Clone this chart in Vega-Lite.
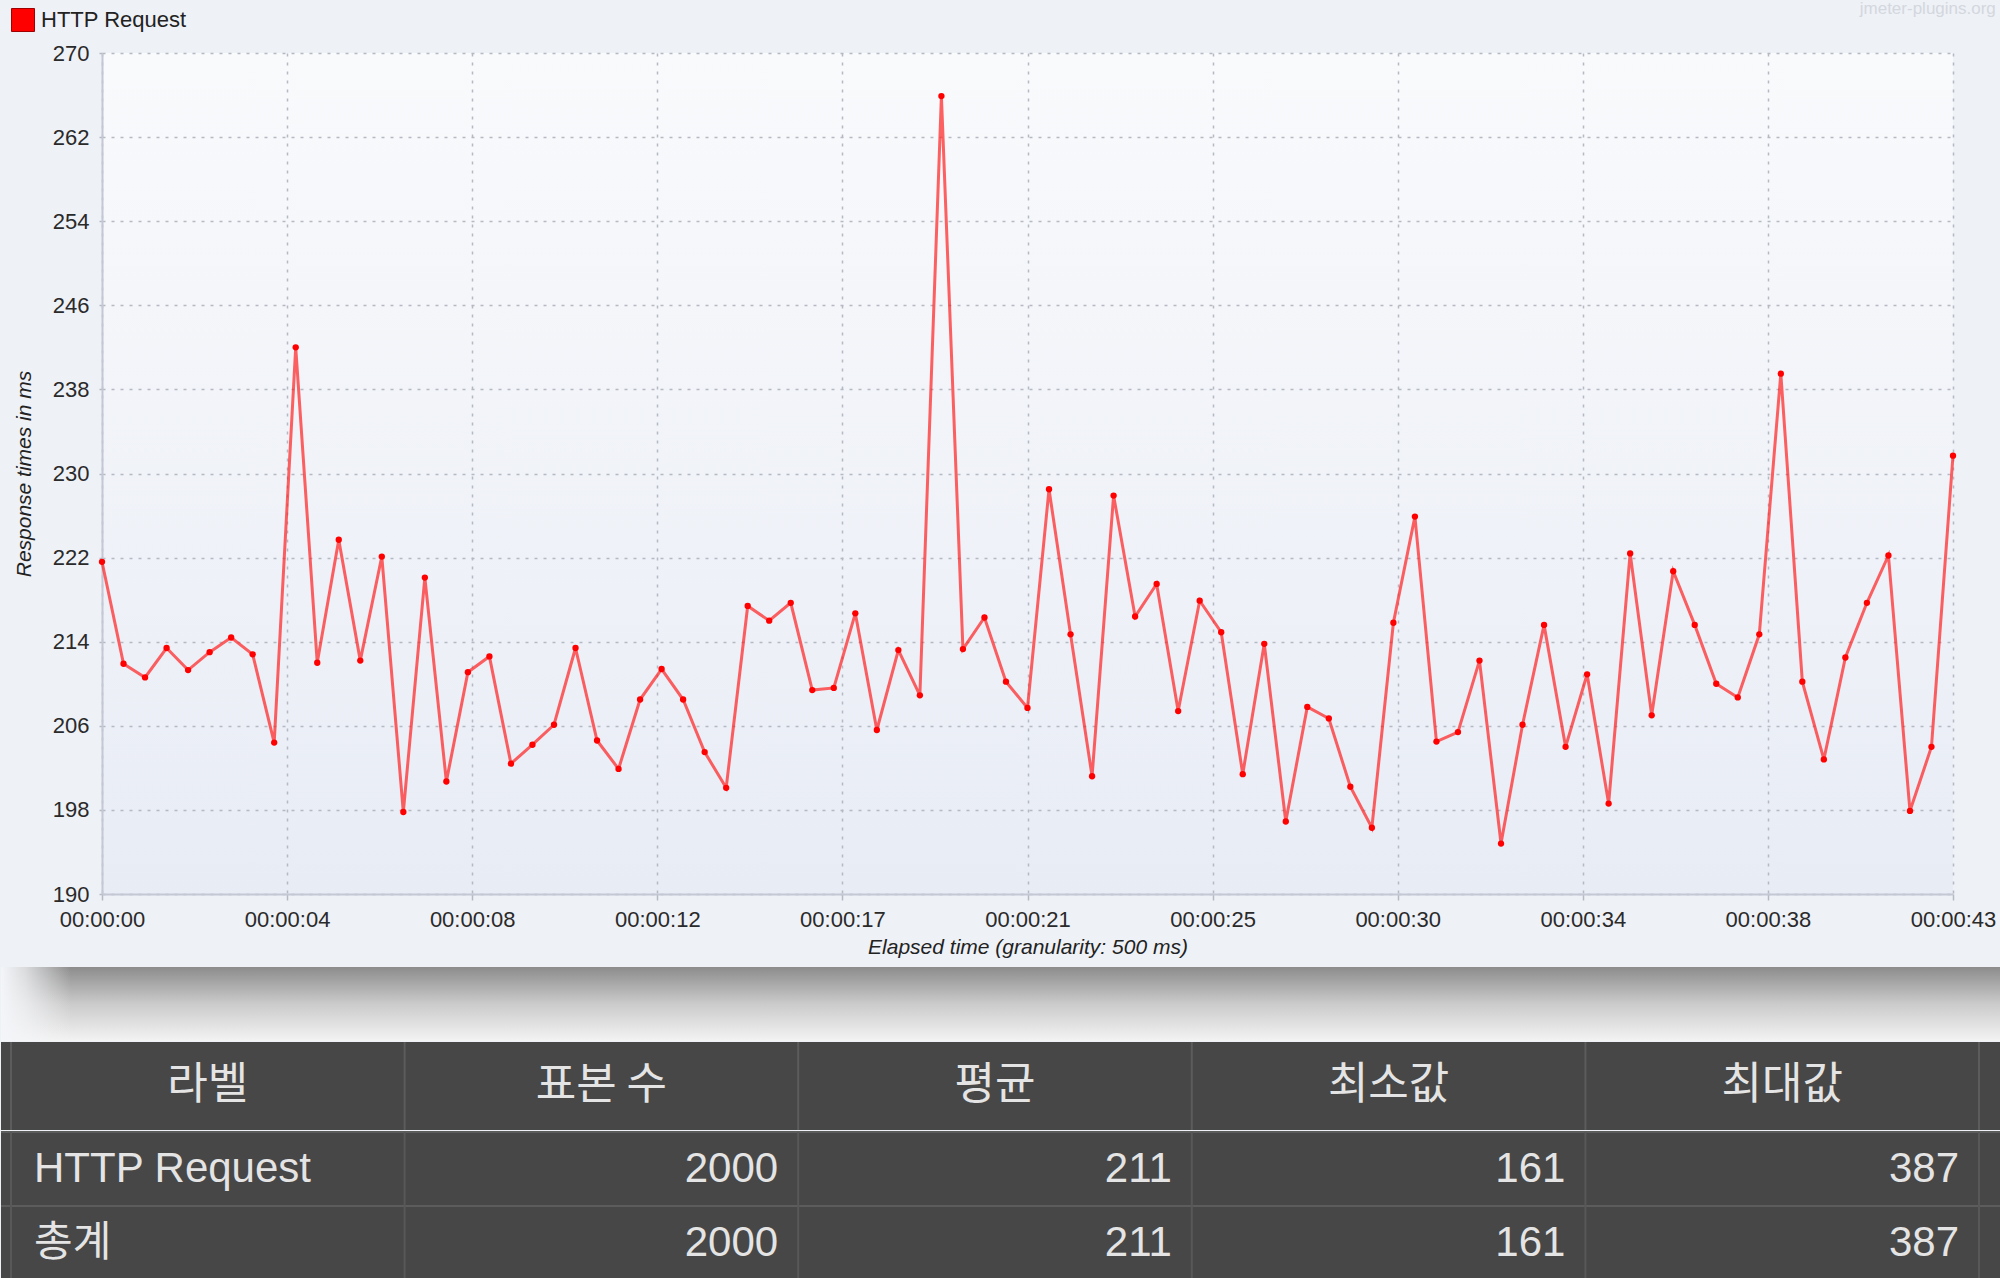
{
  "$schema": "https://vega.github.io/schema/vega-lite/v6.json",
  "padding": 0,
  "background": "#eef1f6",
  "spacing": 10,
  "config": {"view": {"stroke": null}, "font": "Liberation Sans"},
  "datasets": {
    "rt": [
      {"t": 0, "ms": 221.6}, {"t": 0.5, "ms": 211.9}, {"t": 1, "ms": 210.6}, {"t": 1.5, "ms": 213.4},
      {"t": 2, "ms": 211.3}, {"t": 2.5, "ms": 213.0}, {"t": 3, "ms": 214.4}, {"t": 3.5, "ms": 212.8},
      {"t": 4, "ms": 204.4}, {"t": 4.5, "ms": 242.0}, {"t": 5, "ms": 212.0}, {"t": 5.5, "ms": 223.7},
      {"t": 6, "ms": 212.2}, {"t": 6.5, "ms": 222.1}, {"t": 7, "ms": 197.8}, {"t": 7.5, "ms": 220.1},
      {"t": 8, "ms": 200.7}, {"t": 8.5, "ms": 211.1}, {"t": 9, "ms": 212.6}, {"t": 9.5, "ms": 202.4},
      {"t": 10, "ms": 204.2}, {"t": 10.5, "ms": 206.1}, {"t": 11, "ms": 213.4}, {"t": 11.5, "ms": 204.6},
      {"t": 12, "ms": 201.9}, {"t": 12.5, "ms": 208.5}, {"t": 13, "ms": 211.4}, {"t": 13.5, "ms": 208.5},
      {"t": 14, "ms": 203.5}, {"t": 14.5, "ms": 200.1}, {"t": 15, "ms": 217.4}, {"t": 15.5, "ms": 216.0},
      {"t": 16, "ms": 217.7}, {"t": 16.5, "ms": 209.4}, {"t": 17, "ms": 209.6}, {"t": 17.5, "ms": 216.7},
      {"t": 18, "ms": 205.6}, {"t": 18.5, "ms": 213.2}, {"t": 19, "ms": 208.9}, {"t": 19.5, "ms": 265.9},
      {"t": 20, "ms": 213.3}, {"t": 20.5, "ms": 216.3}, {"t": 21, "ms": 210.2}, {"t": 21.5, "ms": 207.7},
      {"t": 22, "ms": 228.5}, {"t": 22.5, "ms": 214.7}, {"t": 23, "ms": 201.2}, {"t": 23.5, "ms": 227.9},
      {"t": 24, "ms": 216.4}, {"t": 24.5, "ms": 219.5}, {"t": 25, "ms": 207.4}, {"t": 25.5, "ms": 217.9},
      {"t": 26, "ms": 214.9}, {"t": 26.5, "ms": 201.4}, {"t": 27, "ms": 213.8}, {"t": 27.5, "ms": 196.9},
      {"t": 28, "ms": 207.8}, {"t": 28.5, "ms": 206.7}, {"t": 29, "ms": 200.2}, {"t": 29.5, "ms": 196.3},
      {"t": 30, "ms": 215.8}, {"t": 30.5, "ms": 225.9}, {"t": 31, "ms": 204.5}, {"t": 31.5, "ms": 205.4},
      {"t": 32, "ms": 212.2}, {"t": 32.5, "ms": 194.8}, {"t": 33, "ms": 206.1}, {"t": 33.5, "ms": 215.6},
      {"t": 34, "ms": 204.0}, {"t": 34.5, "ms": 210.9}, {"t": 35, "ms": 198.6}, {"t": 35.5, "ms": 222.4},
      {"t": 36, "ms": 207.0}, {"t": 36.5, "ms": 220.7}, {"t": 37, "ms": 215.6}, {"t": 37.5, "ms": 210.0},
      {"t": 38, "ms": 208.7}, {"t": 38.5, "ms": 214.7}, {"t": 39, "ms": 239.5}, {"t": 39.5, "ms": 210.2},
      {"t": 40, "ms": 202.8}, {"t": 40.5, "ms": 212.5}, {"t": 41, "ms": 217.7}, {"t": 41.5, "ms": 222.2},
      {"t": 42, "ms": 197.9}, {"t": 42.5, "ms": 204.0}, {"t": 43, "ms": 231.7}
    ],
    "cols": [{"col": "라벨"}, {"col": "표본 수"}, {"col": "평균"}, {"col": "최소값"}, {"col": "최대값"}],
    "summary": [
      {"라벨": "HTTP Request", "표본 수": 2000, "평균": 211, "최소값": 161, "최대값": 387},
      {"라벨": "총계", "표본 수": 2000, "평균": 211, "최소값": 161, "최대값": 387}
    ]
  },
  "vconcat": [
    {
      "spacing": 0,
      "hconcat": [
        {
          "width": 12,
          "height": 841,
          "data": {"values": [{"k": 1}]},
          "mark": {"type": "text", "opacity": 0},
          "encoding": {"text": {"value": ""}}
        },
        {
          "width": 1851,
          "height": 841,
          "data": {"name": "rt"},
          "title": {
            "text": "jmeter-plugins.org", "anchor": "end", "frame": "bounds", "offset": 24,
            "font": "Liberation Sans", "fontSize": 17, "fontWeight": "normal", "color": "#d3d7de"
          },
          "view": {
            "fill": {"gradient": "linear", "x1": 0, "y1": 0, "x2": 0, "y2": 1,
              "stops": [{"offset": 0, "color": "#f9fafc"}, {"offset": 1, "color": "#e8ecf5"}]},
            "stroke": null
          },
          "encoding": {
            "x": {
              "field": "t", "type": "quantitative",
              "scale": {"domain": [0, 43], "nice": false, "zero": false},
              "axis": {
                "title": "Elapsed time (granularity: 500 ms)",
                "values": [0, 4.3, 8.6, 12.9, 17.2, 21.5, 25.8, 30.1, 34.4, 38.7, 43],
                "labelExpr": "'00:00:' + (floor(datum.value) < 10 ? '0' : '') + floor(datum.value)",
                "labelFont": "Liberation Sans", "labelFontSize": 22, "labelColor": "#2a2a2a",
                "labelFlush": false, "labelOverlap": false, "labelPadding": 9,
                "titleFont": "Liberation Sans", "titleFontSize": 21, "titleFontStyle": "italic",
                "titleFontWeight": "normal", "titleColor": "#222222", "titlePadding": 6,
                "domainColor": "#c3c8d4", "domainWidth": 2,
                "grid": true, "gridColor": "#b5b9c2", "gridDash": [3, 6], "gridWidth": 1.5,
                "tickColor": "#b5b9c2", "tickSize": 6, "tickWidth": 1.5
              }
            },
            "y": {
              "field": "ms", "type": "quantitative",
              "scale": {"domain": [190, 270], "nice": false, "zero": false},
              "axis": {
                "title": "Response times in ms",
                "values": [190, 198, 206, 214, 222, 230, 238, 246, 254, 262, 270],
                "labelFont": "Liberation Sans", "labelFontSize": 22, "labelColor": "#2a2a2a",
                "labelFlush": false, "labelOverlap": false, "labelPadding": 5,
                "titleFont": "Liberation Sans", "titleFontSize": 21, "titleFontStyle": "italic",
                "titleFontWeight": "normal", "titleColor": "#222222", "titlePadding": 18,
                "domainColor": "#c3c8d4", "domainWidth": 2,
                "grid": true, "gridColor": "#b5b9c2", "gridDash": [3, 6], "gridWidth": 1.5,
                "tickColor": "#b5b9c2", "tickSize": 8, "tickDash": [3, 6], "tickWidth": 1.5
              }
            }
          },
          "layer": [
            {"mark": {"type": "line", "color": "#ff1f1f", "strokeWidth": 3, "opacity": 0.7}},
            {
              "mark": {"type": "point", "filled": true, "size": 40, "opacity": 1},
              "encoding": {
                "color": {
                  "datum": "HTTP Request", "type": "nominal",
                  "scale": {"domain": ["HTTP Request"], "range": ["#ff0000"]},
                  "legend": {
                    "title": null, "orient": "none", "legendX": 2, "legendY": -53, "padding": 8,
                    "symbolType": "square", "symbolSize": 529, "symbolStrokeColor": "#a00000",
                    "symbolStrokeWidth": 1, "symbolOpacity": 1,
                    "labelFont": "Liberation Sans", "labelFontSize": 22, "labelColor": "#222222",
                    "labelOffset": 6
                  }
                }
              }
            }
          ]
        }
      ]
    },
    {
      "spacing": 0,
      "vconcat": [
        {
          "width": 2000,
          "height": 74,
          "data": {"values": [{"k": 1}]},
          "layer": [
            {
              "mark": {
                "type": "rect",
                "color": {"gradient": "linear", "x1": 0, "y1": 0, "x2": 0, "y2": 1,
                  "stops": [{"offset": 0, "color": "#8c8c8c"}, {"offset": 0.5, "color": "#cbcbcb"}, {"offset": 1, "color": "#f3f3f3"}]}
              },
              "encoding": {}
            },
            {
              "mark": {
                "type": "rect",
                "color": {"gradient": "linear", "x1": 0, "y1": 0, "x2": 1, "y2": 0,
                  "stops": [{"offset": 0, "color": "rgba(244,245,248,1)"}, {"offset": 0.012, "color": "rgba(244,245,248,0.75)"}, {"offset": 0.035, "color": "rgba(244,245,248,0)"}, {"offset": 1, "color": "rgba(244,245,248,0)"}]}
              },
              "encoding": {}
            }
          ]
        },
        {
          "width": 2000,
          "height": 88,
          "data": {"name": "cols"},
          "view": {"fill": "#474747", "stroke": null},
          "encoding": {
            "x": {
              "field": "col", "type": "nominal",
              "scale": {"domain": ["라벨", "표본 수", "평균", "최소값", "최대값"], "range": [10, 1978], "paddingInner": 0, "paddingOuter": 0},
              "axis": null
            }
          },
          "layer": [
            {"mark": {"type": "rule", "color": "#5c5c5c", "strokeWidth": 2}, "encoding": {"x": {"field": "col", "type": "nominal", "bandPosition": 1}}},
            {"mark": {"type": "rule", "color": "#5c5c5c", "strokeWidth": 2}, "encoding": {"x": {"datum": "라벨", "type": "nominal", "bandPosition": 0}}},
            {"mark": {"type": "text", "font": "Noto Sans CJK KR", "fontSize": 44, "color": "#e4e4e4", "baseline": "middle"}, "encoding": {"text": {"field": "col", "type": "nominal"}}}
          ]
        },
        {
          "width": 2000,
          "height": 148,
          "data": {"name": "summary"},
          "view": {"fill": "#474747", "stroke": null},
          "layer": [
            {
              "mark": {"type": "rule", "color": "#5c5c5c", "strokeWidth": 2},
              "encoding": {"y": {"field": "라벨", "type": "nominal", "bandPosition": 0,
                "scale": {"domain": ["HTTP Request", "총계"], "paddingInner": 0, "paddingOuter": 0}, "axis": null}}
            },
            {
              "data": {"name": "cols"},
              "mark": {"type": "rule", "color": "#585858", "strokeWidth": 2},
              "encoding": {"x": {"field": "col", "type": "nominal", "bandPosition": 1,
                "scale": {"domain": ["라벨", "표본 수", "평균", "최소값", "최대값"], "range": [10, 1978], "paddingInner": 0, "paddingOuter": 0}, "axis": null}}
            },
            {
              "data": {"name": "cols"},
              "mark": {"type": "rule", "color": "#585858", "strokeWidth": 2},
              "encoding": {"x": {"datum": "라벨", "type": "nominal", "bandPosition": 0}}
            },
            {
              "mark": {"type": "text", "align": "left", "baseline": "middle", "dx": 23, "font": "Liberation Sans, Noto Sans CJK KR", "fontSize": 42, "color": "#e4e4e4"},
              "encoding": {
                "x": {"datum": "라벨", "type": "nominal", "bandPosition": 0},
                "y": {"field": "라벨", "type": "nominal"},
                "text": {"field": "라벨", "type": "nominal"}
              }
            },
            {
              "transform": [{"fold": ["표본 수", "평균", "최소값", "최대값"], "as": ["col", "value"]}],
              "mark": {"type": "text", "align": "right", "baseline": "middle", "dx": -20, "font": "Liberation Sans", "fontSize": 42, "color": "#e4e4e4"},
              "encoding": {
                "x": {"field": "col", "type": "nominal", "bandPosition": 1},
                "y": {"field": "라벨", "type": "nominal"},
                "text": {"field": "value", "type": "nominal"}
              }
            }
          ]
        }
      ]
    }
  ]
}
